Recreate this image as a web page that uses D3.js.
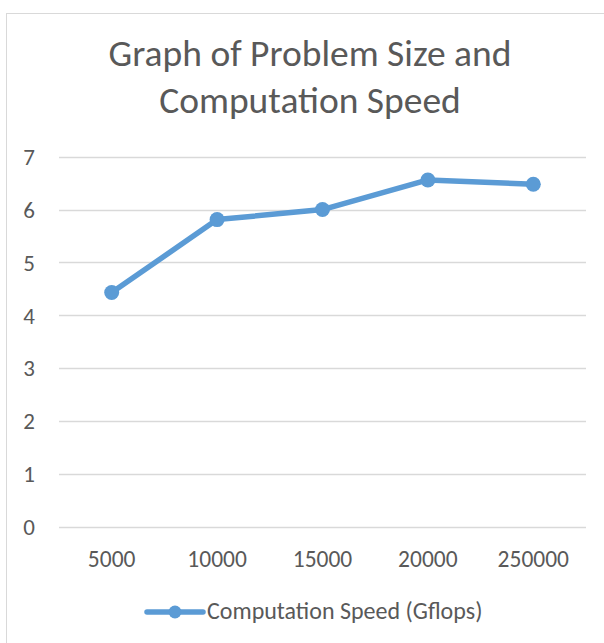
<!DOCTYPE html>
<html>
<head>
  <script src="https://d3js.org/d3.v7.min.js"></script>
  <style>
    body { margin: 0; background: #fff; }
    svg text {
      font-family: Calibri, Carlito, Lato, sans-serif;
      fill: #595959;
    }
  </style>
</head>
<body>
  <svg class="chart" width="604" height="643"></svg>
  <script>
    var categories = ['5000', '10000', '15000', '20000', '250000'];
    var speed = [4.43, 5.81, 6.0, 6.56, 6.48];
    var yTicks = [0, 1, 2, 3, 4, 5, 6, 7];
    var titleLines = ['Graph of Problem Size and', 'Computation Speed'];
    var seriesName = 'Computation Speed (Gflops)';

    var color = '#5b9bd5';
    var margin = { left: 59, right: 18, top: 156.7, bottom: 116.3 };
    var width = 604, height = 643;

    var svg = d3.select('.chart');

    // chart frame, runs off the right and bottom of the picture
    svg.append('rect')
      .attr('x', 6.5).attr('y', 13.5)
      .attr('width', 700).attr('height', 700)
      .attr('fill', 'none')
      .attr('stroke', '#d9d9d9');

    var x = d3.scaleBand()
      .domain(categories)
      .range([margin.left, width - margin.right]);
    var y = d3.scaleLinear()
      .domain([0, 7])
      .range([height - margin.bottom, margin.top]);

    // gridlines
    svg.append('g')
      .selectAll('line')
      .data(yTicks)
      .enter()
      .append('line')
      .attr('x1', margin.left)
      .attr('x2', width - margin.right)
      .attr('y1', function (d) { return Math.round(y(d)) + 0.5; })
      .attr('y2', function (d) { return Math.round(y(d)) + 0.5; })
      .attr('stroke', '#d9d9d9')
      .attr('stroke-width', 1.5);

    // y labels
    svg.append('g')
      .selectAll('text')
      .data(yTicks)
      .enter()
      .append('text')
      .attr('x', 35)
      .attr('y', function (d) { return y(d); })
      .attr('dy', '0.36em')
      .attr('text-anchor', 'end')
      .style('font-size', '23px')
      .text(function (d) { return d; });

    // x labels
    svg.append('g')
      .selectAll('text')
      .data(categories)
      .enter()
      .append('text')
      .attr('x', function (d) { return x(d) + x.bandwidth() / 2; })
      .attr('y', 566.7)
      .attr('text-anchor', 'middle')
      .style('font-size', '23.5px')
      .text(function (d) { return d; });

    // title
    svg.append('g')
      .selectAll('text')
      .data(titleLines)
      .enter()
      .append('text')
      .attr('x', 310)
      .attr('y', function (d, i) { return 66 + i * 47; })
      .attr('text-anchor', 'middle')
      .style('font-size', '37.5px')
      .text(function (d) { return d; });

    // series
    var line = d3.line()
      .x(function (d, i) { return x(categories[i]) + x.bandwidth() / 2; })
      .y(function (d) { return y(d); });

    svg.append('path')
      .datum(speed)
      .attr('d', line)
      .attr('fill', 'none')
      .attr('stroke', color)
      .attr('stroke-width', 5.5)
      .attr('stroke-linejoin', 'round');

    svg.append('g')
      .selectAll('circle')
      .data(speed)
      .enter()
      .append('circle')
      .attr('cx', function (d, i) { return x(categories[i]) + x.bandwidth() / 2; })
      .attr('cy', function (d) { return y(d); })
      .attr('r', 7.5)
      .attr('fill', color);

    // legend
    var legend = svg.append('g');
    legend.append('line')
      .attr('x1', 147).attr('x2', 203)
      .attr('y1', 612).attr('y2', 612)
      .attr('stroke', color)
      .attr('stroke-width', 5.5)
      .attr('stroke-linecap', 'round');
    legend.append('circle')
      .attr('cx', 175).attr('cy', 612)
      .attr('r', 6.5)
      .attr('fill', color);
    legend.append('text')
      .attr('x', 207)
      .attr('y', 618.5)
      .style('font-size', '24px')
      .text(seriesName);
  </script>
</body>
</html>
